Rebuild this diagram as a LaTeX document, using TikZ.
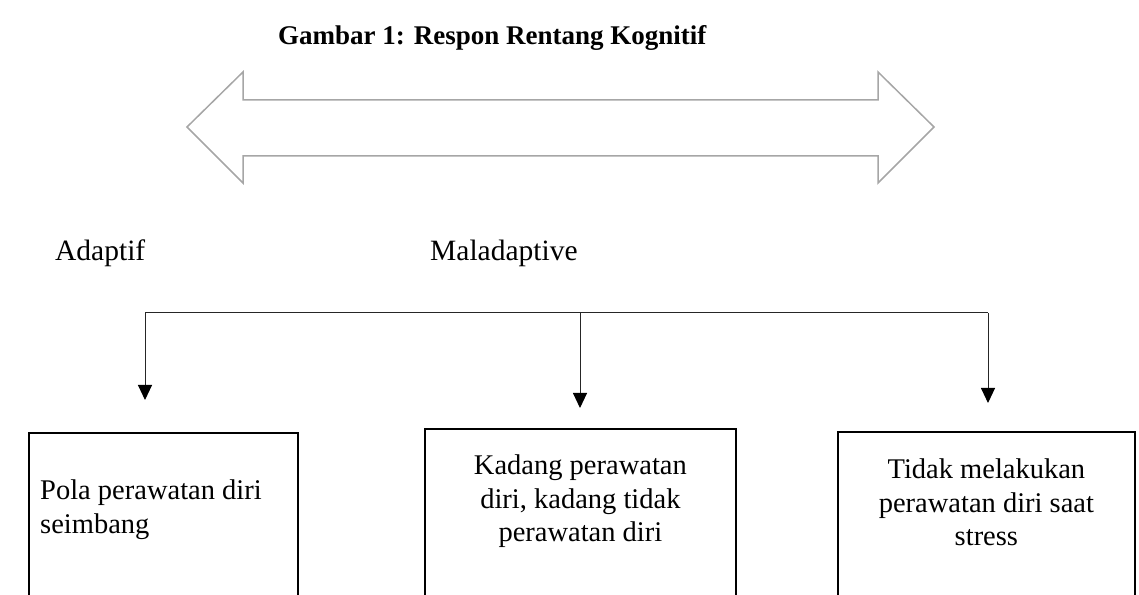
\documentclass[tikz,border=0pt]{standalone}
\usepackage{fontspec}
\setmainfont{Liberation Serif}
\usetikzlibrary{arrows.meta,positioning}

\tikzset{
  kotak/.style={draw=black, line width=1.8pt, minimum height=220pt, anchor=north west, inner sep=0pt},
  teks/.style={font=\fontsize{28.5}{33.5}\selectfont, inner sep=0pt},
  label/.style={font=\fontsize{29.5}{34}\selectfont, inner sep=0pt, anchor=base west},
  panah/.style={draw=black!85, line width=1pt, -{Triangle[width=14pt,length=15pt,black]}},
}

\begin{document}
\begin{tikzpicture}[x=1pt,y=1pt]
\clip (0,0) rectangle (1139,594);

% Judul
\node[font=\fontsize{27}{32}\selectfont\bfseries, inner sep=0pt, anchor=base west] (judul) at (278,549) {Gambar 1: Respon Rentang Kognitif};

% Panah dua arah
\draw[line width=1.5pt, draw=black!35, line join=miter]
  (187,467) -- (243,522) -- (243,494) -- (878,494) -- (878,522) -- (934,467)
  -- (878,411) -- (878,438) -- (243,438) -- (243,411) -- cycle;

% Label rentang
\node[label] (adaptif) at (55,333) {Adaptif};
\node[label] (maladaptif) at (430,333) {Maladaptive};

% Kotak respon
\node[kotak, minimum width=269pt] (pola) at (28,162) {};
\node[kotak, minimum width=311pt] (kadang) at (424,166) {};
\node[kotak, minimum width=297pt] (tidak) at (837,163) {};

\node[teks, align=left, anchor=north west, below right=48pt and 12pt of pola.north west] (polateks) {Pola perawatan diri\\seimbang};
\node[teks, align=center, below=27pt of kadang.north] (kadangteks) {Kadang perawatan\\diri, kadang tidak\\perawatan diri};
\node[teks, align=center, below=28pt of tidak.north] (tidakteks) {Tidak melakukan\\perawatan diri saat\\stress};

% Garis cabang
\coordinate (cabkiri) at (145,281);
\coordinate (cabtengah) at (580,281);
\coordinate (cabkanan) at (988,281);
\coordinate (ujungkiri) at (145,194);
\coordinate (ujungtengah) at (580,186);
\coordinate (ujungkanan) at (988,191);

\draw[draw=black!85, line width=1pt] (cabkiri) -- (cabkanan);
\draw[panah] (cabkiri) -- (ujungkiri);
\draw[panah] (cabtengah) -- (ujungtengah);
\draw[panah] (cabkanan) -- (ujungkanan);

\end{tikzpicture}
\end{document}
